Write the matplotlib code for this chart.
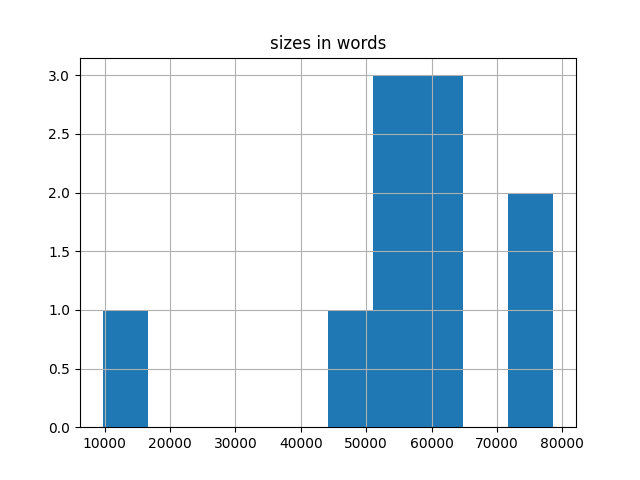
import matplotlib
matplotlib.use("Agg")
import matplotlib.pyplot as plt

sizes = [9694, 47000, 52000, 54500, 56500, 59000, 61000, 63500, 75000, 78630]
title = "sizes in words"

fig, ax = plt.subplots(figsize=(6.4, 4.8), dpi=100)
ax.hist(sizes, bins=10, color="#1f77b4")
ax.grid(True)
ax.set_title(title)
fig.savefig("out.png")
